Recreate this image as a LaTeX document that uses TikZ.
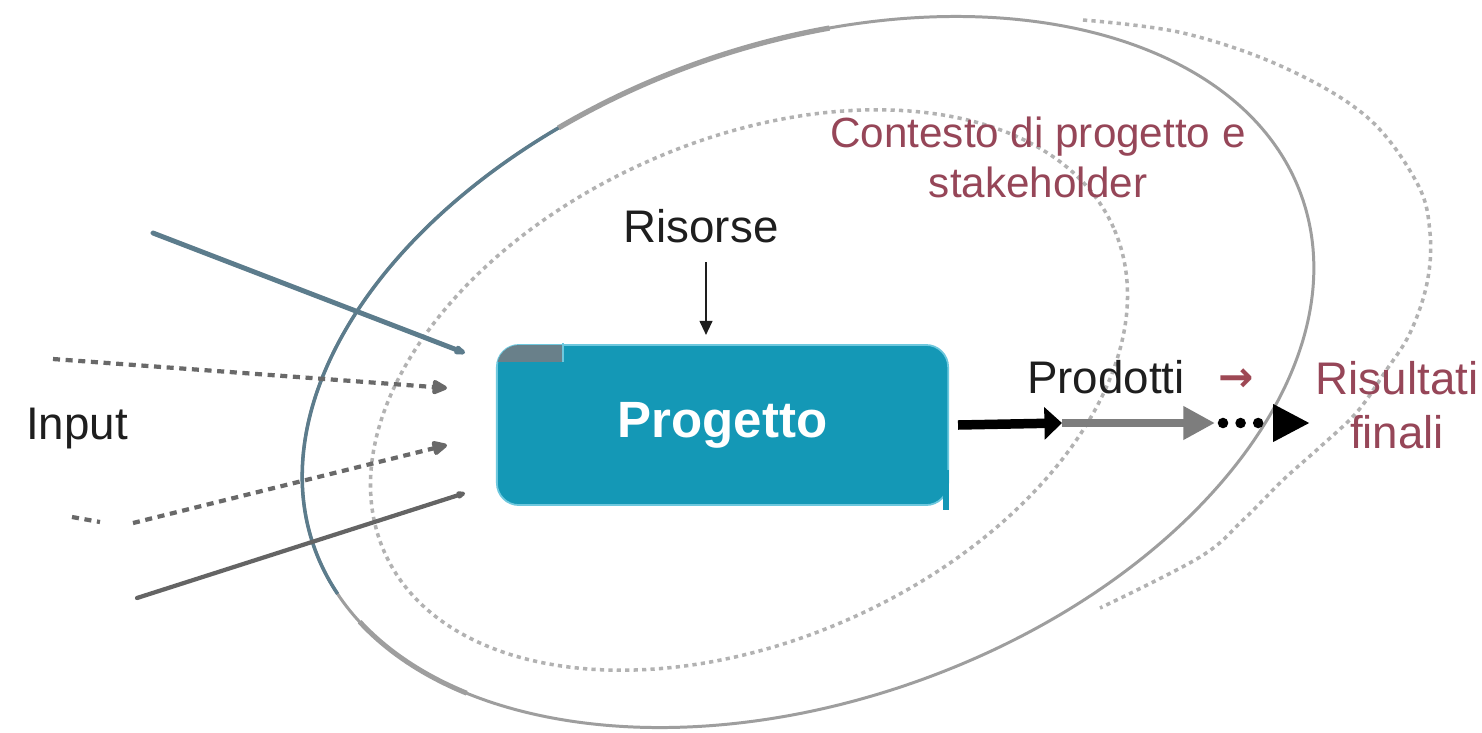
\documentclass[tikz,border=0pt]{standalone}
\usepackage{fontspec}
\setmainfont{Liberation Sans}
\newfontfamily\arrowfont{DejaVu Sans}
\usetikzlibrary{arrows.meta,calc}
\definecolor{tealbox}{RGB}{20,152,182}
\definecolor{tealedge}{RGB}{110,200,222}
\definecolor{tabgray}{RGB}{105,128,138}
\definecolor{slate}{RGB}{92,124,140}
\definecolor{ringgray}{RGB}{158,158,158}
\definecolor{dotgray}{RGB}{178,178,178}
\definecolor{maroon1}{RGB}{150,70,88}
\definecolor{arrowred}{RGB}{158,72,84}
\definecolor{ingray}{RGB}{105,105,105}
\definecolor{linegray}{RGB}{100,100,100}
\definecolor{prodgray}{RGB}{125,125,125}
\definecolor{txt}{RGB}{30,30,30}
\begin{document}
\begin{tikzpicture}[x=0.01cm,y=0.01cm,
  lbl/.style={font=\fontsize{13}{15}\selectfont, text=txt, inner sep=0pt, anchor=base},
  redlbl/.style={font=\fontsize{12}{14.2}\selectfont, text=maroon1, inner sep=0pt, align=center, anchor=base},
  ring/.style={draw=ringgray, line width=0.85pt},
  dotring/.style={draw=dotgray, line width=1pt, dash pattern=on 1.2pt off 1.2pt},
  dashin/.style={draw=ingray, line width=1.2pt, dash pattern=on 2pt off 1.6pt},
  probox/.style={draw=tealedge, fill=tealbox, line width=0.5pt, rounded corners=0.22cm,
    minimum width=4.51cm, minimum height=1.60cm, inner sep=0pt,
    font=\bfseries\fontsize{14.5}{16}\selectfont, text=white},
]
\fill[white] (0,0) rectangle (1482,732);
\useasboundingbox (0,0) rectangle (1482,732);

% inner dotted ring
\draw[dotring, rotate around={24:(749,342)}] (749,342) ellipse [x radius=399, y radius=250];
% outer dotted ring (right part)
\draw[dotring] plot[smooth, tension=0.6] coordinates {(1083,712) (1183,699) (1283,665) (1367,615) (1417,549) (1430,499) (1427,449) (1410,399) (1385,360) (1357,320) (1320,285) (1283,252) (1243,212) (1200,175) (1100,124)};
% solid ring
\begin{scope}[shift={(808,360)}, rotate=19.6]
  \draw[ring] (0,0) ellipse [x radius=524, y radius=328];
  \draw[draw=ringgray, line width=1.5pt] (75:524 and 328) arc[start angle=75, end angle=107, x radius=524, y radius=328];
  \draw[draw=slate, line width=1pt] (107:524 and 328) arc[start angle=107, end angle=189, x radius=524, y radius=328];
  \draw[draw=ringgray, line width=1.4pt] (195:524 and 328) arc[start angle=195, end angle=215, x radius=524, y radius=328];
\end{scope}

% project box
\node[probox] (prog) at (722.5,307) {Progetto};
\begin{scope}
  \clip[rounded corners=0.22cm] (497,227) rectangle (948,387);
  \fill[tabgray] (497,370) rectangle (563,387);
\end{scope}
\draw[tealedge, line width=0.5pt] (563,370) -- (563,389);
\draw[tealbox, line width=1.8pt] (946,262) -- (946,222);

% labels
\node[lbl] (inp) at (77,293) {Input};
\node[lbl] (ris) at (701,490) {Risorse};
\node[redlbl] (ctx) at (1038,535) {Contesto di progetto e\\stakeholder};
\node[lbl] (prod) at (1106,339) {Prodotti};
\node[lbl, text=arrowred, font=\arrowfont\bfseries\fontsize{12}{14}\selectfont] (parr) at (1236,341) {→};
\node[redlbl, font=\fontsize{13}{15.2}\selectfont] (res) at (1397,284) {Risultati\\finali};

% resources arrow
\coordinate (r0) at (706,470);
\draw[draw=txt, line width=0.6pt, -{Triangle[length=4pt,width=3.6pt]}] (r0) -- (706,397);

% inputs
\coordinate (a0) at (153,499);  \coordinate (a1) at (465,379);
\coordinate (b0) at (53,373);   \coordinate (b1) at (447,344);
\coordinate (c0) at (72,215);   \coordinate (c1) at (100,210); \coordinate (c2) at (133,209); \coordinate (c3) at (447,287);
\coordinate (d0) at (137,134);  \coordinate (d1) at (465,239);
\draw[draw=slate, line width=1.4pt, line cap=round, -{Latex[length=8pt,width=3pt,round]}] (a0) -- (a1);
\draw[dashin, -{Triangle[length=5pt,width=4.4pt,round]}] (b0) -- (b1);
\draw[dashin] (c0) -- (c1);
\draw[dashin, -{Triangle[length=5pt,width=4.4pt,round]}] (c2) -- (c3);
\draw[draw=linegray, line width=1.2pt, line cap=round, -{Latex[length=6pt,width=2.6pt,round]}] (d0) -- (d1);

% output arrow
\coordinate (o1) at (1062,309);
\coordinate (o2) at (1215,309);
\coordinate (o3) at (1223,309);
\coordinate (o4) at (1310,309);
\draw[black, line width=2.7pt, -{Triangle[length=5pt,width=9pt]}] ([xshift=0.09cm]prog.east) -- (o1);
\draw[prodgray, line width=2.5pt, -{Triangle[length=9pt,width=9pt]}] (o1) -- (o2);
\draw[black, line width=3pt, line cap=round, dash pattern=on 0pt off 5pt, -{Triangle[length=10.5pt,width=10pt]}] (o3) -- (o4);
\end{tikzpicture}
\end{document}
